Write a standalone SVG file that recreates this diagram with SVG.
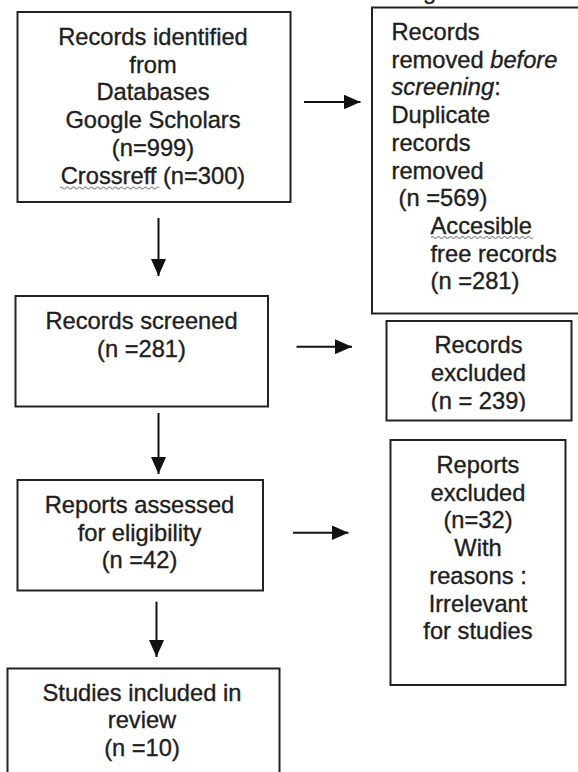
<svg xmlns="http://www.w3.org/2000/svg" width="578" height="772" viewBox="0 0 578 772">
<style>
.box{fill:#fff;stroke:#222;stroke-width:2}
.t{font-family:"Liberation Sans",Arial,sans-serif;font-size:23.7px;fill:#1e1e1e;stroke:#1e1e1e;stroke-width:0.35}
.c{text-anchor:middle}
.conn{stroke:#111;stroke-width:2;fill:none}
.wavy{stroke:#888;stroke-width:1.2;fill:none}
</style>
<defs>
<marker id="ah" markerUnits="userSpaceOnUse" markerWidth="17" markerHeight="15" refX="17" refY="7.5" orient="auto">
<path d="M0,0 L17,7.5 L0,15 z" fill="#111"/>
</marker>
<clipPath id="clipEx"><rect x="386" y="321" width="186" height="90.5"/></clipPath>
</defs>
<rect width="578" height="772" fill="#fff"/>
<text class="t" x="423" y="-1.5">g</text>

<g id="identified">
<rect class="box" x="17.5" y="12" width="273" height="190"/>
<text class="t c" x="153" y="45">Records identified</text>
<text class="t c" x="153" y="72.7">from</text>
<text class="t c" x="153" y="100.4">Databases</text>
<text class="t c" x="153" y="128.1">Google Scholars</text>
<text class="t c" x="153" y="155.8">(n=999)</text>
<text class="t c" x="153" y="183.5">Crossreff (n=300)</text>
<path class="wavy" d="M60,188 q1.5,-2 3,0 t3,0 t3,0 t3,0 t3,0 t3,0 t3,0 t3,0 t3,0 t3,0 t3,0 t3,0 t3,0 t3,0 t3,0 t3,0 t3,0 t3,0 t3,0 t3,0 t3,0 t3,0 t3,0 t3,0 t3,0 t3,0 t3,0 t3,0 t3,0 t3,0 t3,0 t3,0 t3,0"/>
</g>

<g id="removed">
<rect class="box" x="372" y="7.5" width="210" height="306"/>
<text class="t" x="391.5" y="40">Records</text>
<text class="t" x="391.5" y="67.7">removed <tspan font-style="italic">before</tspan></text>
<text class="t" x="391.5" y="95.4"><tspan font-style="italic">screening</tspan>:</text>
<text class="t" x="391.5" y="123.1">Duplicate</text>
<text class="t" x="391.5" y="150.8">records</text>
<text class="t" x="391.5" y="178.5">removed</text>
<text class="t" x="398.5" y="206.2">(n =569)</text>
<text class="t" x="430.5" y="233.9">Accesible</text>
<text class="t" x="430.5" y="261.6">free records</text>
<text class="t" x="430.5" y="289.3">(n =281)</text>
<path class="wavy" d="M431,237.5 q1.5,-2 3,0 t3,0 t3,0 t3,0 t3,0 t3,0 t3,0 t3,0 t3,0 t3,0 t3,0 t3,0 t3,0 t3,0 t3,0 t3,0 t3,0 t3,0 t3,0 t3,0 t3,0 t3,0 t3,0 t3,0 t3,0 t3,0 t3,0 t3,0 t3,0 t3,0 t3,0 t3,0 t3,0 t3,0"/>
</g>

<g id="screened">
<rect class="box" x="15.5" y="296" width="252.5" height="110.5"/>
<text class="t c" x="141.5" y="329">Records screened</text>
<text class="t c" x="141.5" y="356.7">(n =281)</text>
</g>

<g id="recexcluded">
<rect class="box" x="386.5" y="321" width="185" height="99.5"/>
<g clip-path="url(#clipEx)">
<text class="t c" x="478.5" y="353.3">Records</text>
<text class="t c" x="478.5" y="381">excluded</text>
<text class="t c" x="478.5" y="408.7">(n = 239)</text>
</g>
</g>

<g id="assessed">
<rect class="box" x="17.5" y="480" width="245.5" height="110.5"/>
<text class="t c" x="139.5" y="513">Reports assessed</text>
<text class="t c" x="139.5" y="540.5">for eligibility</text>
<text class="t c" x="139.5" y="568">(n =42)</text>
</g>

<g id="repexcluded">
<rect class="box" x="390.5" y="440" width="175" height="245"/>
<text class="t c" x="478" y="473">Reports</text>
<text class="t c" x="478" y="500.7">excluded</text>
<text class="t c" x="478" y="528.4">(n=32)</text>
<text class="t c" x="478" y="556.1">With</text>
<text class="t c" x="478" y="583.8">reasons :</text>
<text class="t c" x="478" y="611.5">Irrelevant</text>
<text class="t c" x="478" y="639.2">for studies</text>
</g>

<g id="included">
<rect class="box" x="7.5" y="668.5" width="272" height="120"/>
<text class="t c" x="142" y="700.7">Studies included in</text>
<text class="t c" x="142" y="728.3">review</text>
<text class="t c" x="142" y="756">(n =10)</text>
</g>

<g id="connectors">
<line class="conn" x1="304" y1="102" x2="360.5" y2="102" marker-end="url(#ah)"/>
<line class="conn" x1="158.5" y1="218" x2="158.5" y2="276" marker-end="url(#ah)"/>
<line class="conn" x1="296.5" y1="346.7" x2="352" y2="346.7" marker-end="url(#ah)"/>
<line class="conn" x1="158.5" y1="413" x2="158.5" y2="474" marker-end="url(#ah)"/>
<line class="conn" x1="293" y1="532.7" x2="348.5" y2="532.7" marker-end="url(#ah)"/>
<line class="conn" x1="156.5" y1="601.7" x2="156.5" y2="657" marker-end="url(#ah)"/>
</g>
</svg>
